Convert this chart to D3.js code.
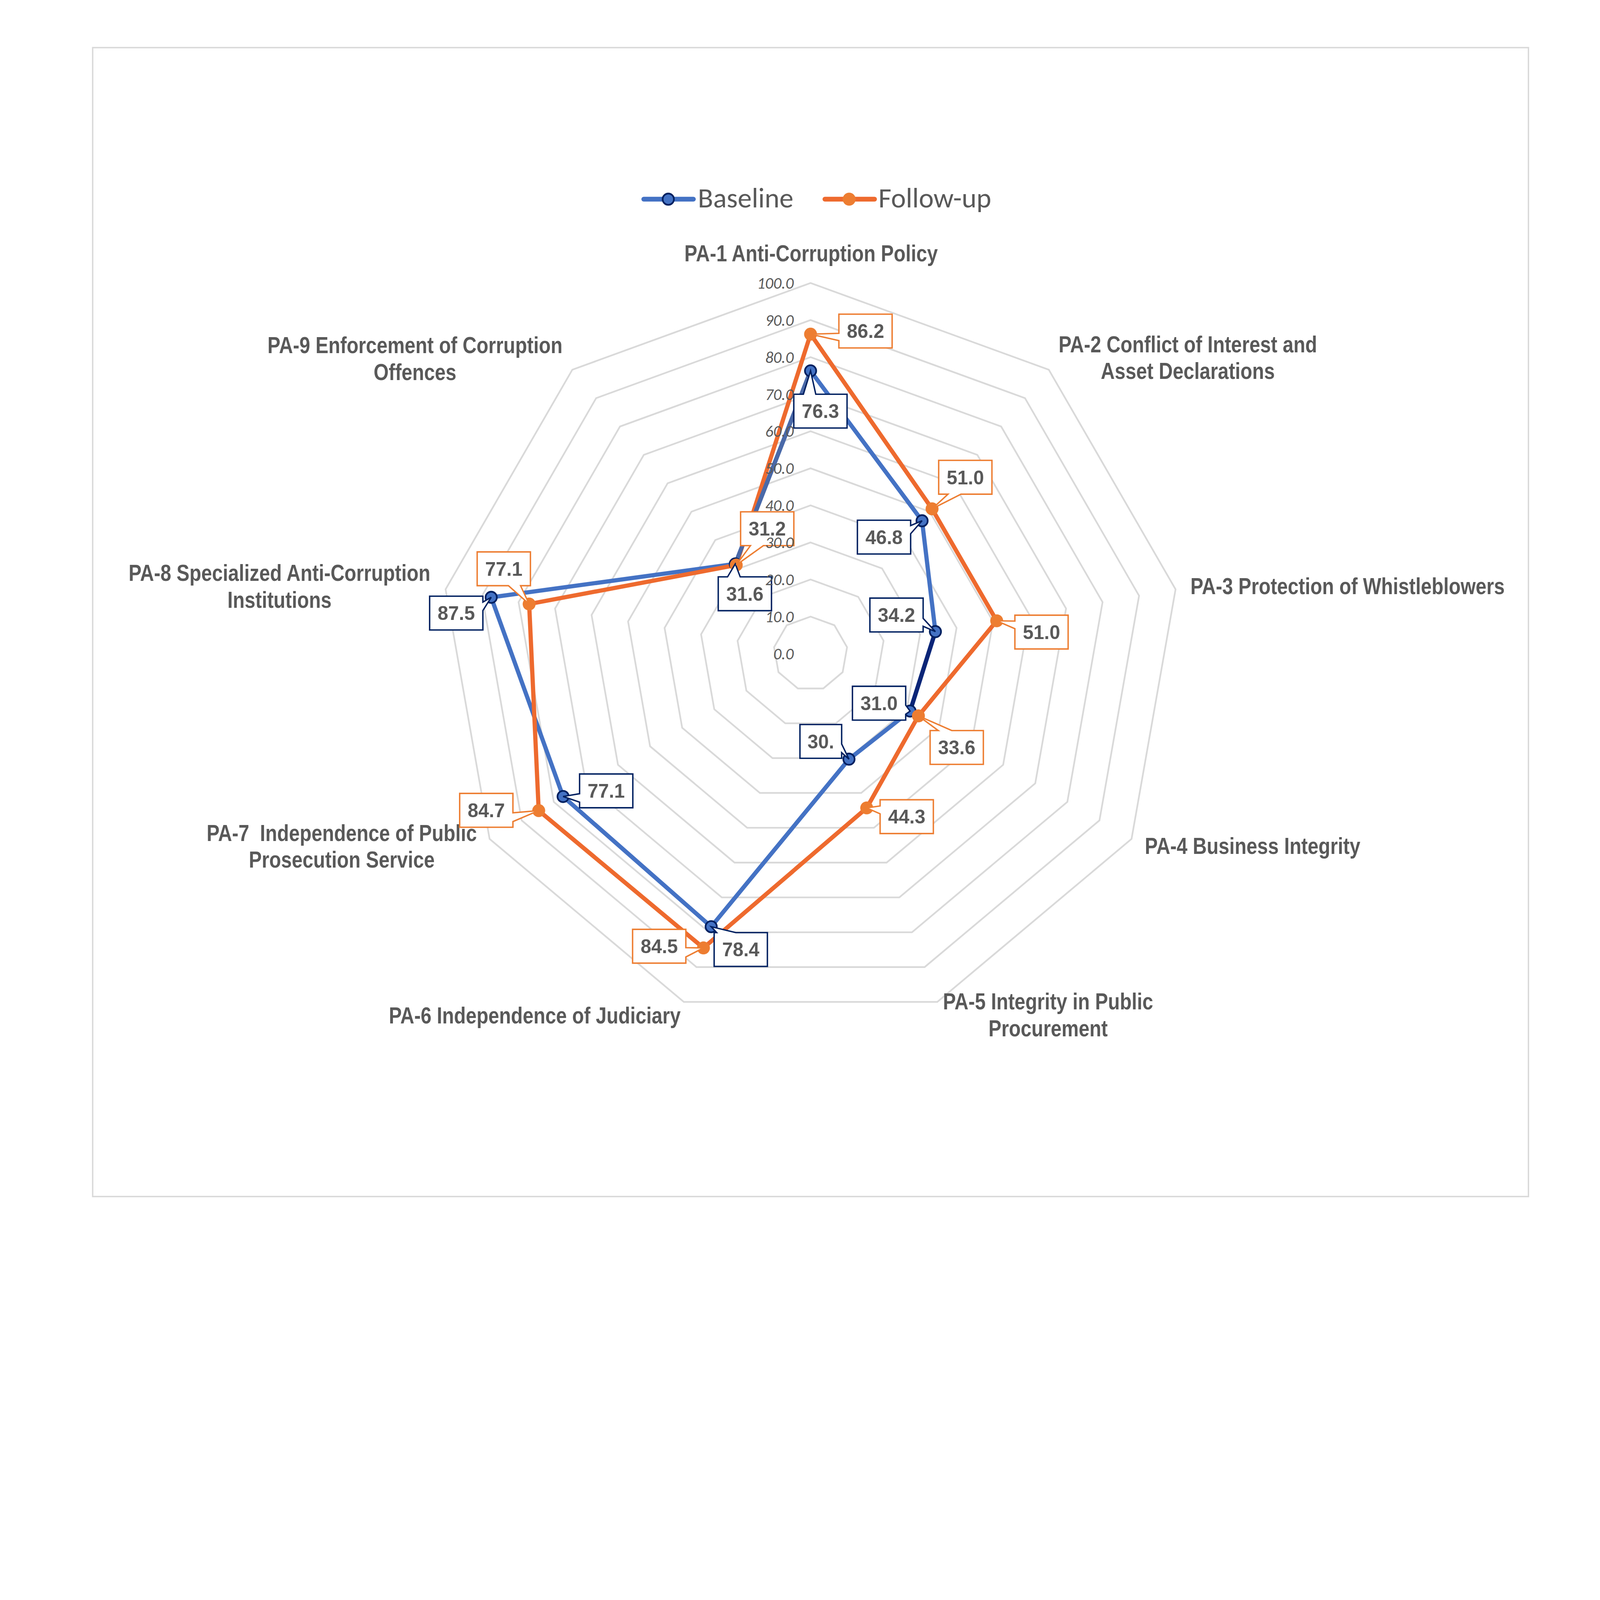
<!DOCTYPE html>
<html>
<head>
<meta charset="utf-8">
<script src="https://cdn.jsdelivr.net/npm/d3@7/dist/d3.min.js"></script>
<style>
  html, body { margin: 0; padding: 0; width: 100%; height: 100%; overflow: hidden; background: #fff; }
  #chart { display: block; width: 100vw; height: 100vh; }
  text { white-space: pre; }
</style>
</head>
<body>
<svg id="chart"></svg>
<script>
// data
const categories = [
  'PA-1 Anti-Corruption Policy',
  'PA-2 Conflict of Interest and\nAsset Declarations',
  'PA-3 Protection of Whistleblowers',
  'PA-4 Business Integrity',
  'PA-5 Integrity in Public\nProcurement',
  'PA-6 Independence of Judiciary',
  'PA-7  Independence of Public\nProsecution Service',
  'PA-8 Specialized Anti-Corruption\nInstitutions',
  'PA-9 Enforcement of Corruption\nOffences'
];
const baseline = [76.3, 46.8, 34.2, 31.0, 30.3, 78.4, 77.1, 87.5, 31.6];
const followUp = [86.2, 51.0, 51.0, 33.6, 44.3, 84.5, 84.7, 77.1, 31.2];
const ticks = [0, 10, 20, 30, 40, 50, 60, 70, 80, 90, 100];
const seriesNames = ['Baseline', 'Follow-up'];

// layout
const W = 5679, H = 4377;
const cx = 2877, cy = 2320, R = 1315.5;
const grey = '#595959';
const boldFont = '"Liberation Sans", Arial, sans-serif';
const calibri = 'Carlito, Calibri, Lato, sans-serif';
const narrowX = 0.837; // no narrow face installed, so squeeze the bold one

// category label anchor (centre x, first baseline y)
const catPos = [
  [2879, 928], [4216, 1250], [4783, 2109], [4446, 3031], [3720, 3583],
  [1898, 3632], [1213, 2985], [992, 2062], [1473, 1254]
];

// data label boxes: offset of box centre from point, wedge side and wedge base offsets
const baseLabels = [
  { dx: 35, dy: 143, side: 'top', a: 34, b: 78 },
  { dx: -135, dy: 58, side: 'right', a: 19, b: 48 },
  { dx: -138, dy: -59, side: 'right', a: 72, b: 100 },
  { dx: -110, dy: -28, side: 'right', a: 67, b: 99 },
  { dx: -100, dy: -63, side: 'right', a: 69, b: 100, w: 148, text: '30.' },
  { dx: 105, dy: 81, side: 'top', a: 9, b: 77 },
  { dx: 153, dy: -20, side: 'left', a: 70, b: 100 },
  { dx: -124, dy: 56, side: 'right', a: 21, b: 51 },
  { dx: 34, dy: 106, side: 'top', a: 33, b: 78 }
];
const followLabels = [
  { dx: 195, dy: -11, side: 'left', a: 68, b: 94 },
  { dx: 118, dy: -112, side: 'bottom', a: 33, b: 79 },
  { dx: 159, dy: 40, side: 'left', a: 21, b: 48 },
  { dx: 136, dy: 112, side: 'top', a: 29, b: 77 },
  { dx: 142, dy: 31, side: 'left', a: 22, b: 50 },
  { dx: -157, dy: -6, side: 'right', a: 65, b: 98 },
  { dx: -186, dy: -1, side: 'right', a: 69, b: 100 },
  { dx: -90, dy: -125, side: 'bottom', a: 111, b: 154 },
  { dx: 110, dy: -129, side: 'bottom', a: 35, b: 81 }
];

const series = [
  { name: seriesNames[0], values: baseline, labels: baseLabels,
    line: '#4472C4', marker: '#4472C4', markerStroke: '#002060', box: '#002060',
    segColors: { 2: '#0B2577', 8: '#4A69A8' } },
  { name: seriesNames[1], values: followUp, labels: followLabels,
    line: '#EE6A2E', marker: '#ED7D31', markerStroke: null, box: '#ED7D31',
    segColors: {} }
];

const svg = d3.select('#chart')
  .attr('viewBox', `0 0 ${W} ${H}`)
  .attr('preserveAspectRatio', 'xMidYMin meet');

svg.append('rect').attr('width', W).attr('height', H).attr('fill', '#fff');

// chart frame
svg.append('rect')
  .attr('x', 329).attr('y', 169)
  .attr('width', 5425 - 329).attr('height', 4247 - 169)
  .attr('fill', 'none')
  .attr('stroke', '#D9D9D9')
  .attr('stroke-width', 5);

const n = categories.length;
const rScale = d3.scaleLinear().domain([0, 100]).range([0, R]);
const aScale = d3.scaleLinear().domain([0, n]).range([0, 2 * Math.PI]);
const pt = (i, v) => [cx + rScale(v) * Math.sin(aScale(i)), cy - rScale(v) * Math.cos(aScale(i))];

const plot = svg.append('g');

// grid rings
const ring = d3.lineRadial()
  .angle((d, i) => aScale(i))
  .radius(d => rScale(d))
  .curve(d3.curveLinearClosed);

plot.append('g')
  .attr('transform', `translate(${cx},${cy})`)
  .selectAll('path')
  .data(ticks.filter(t => t > 0))
  .enter()
  .append('path')
  .attr('d', t => ring(d3.range(n).map(() => t)))
  .attr('fill', 'none')
  .attr('stroke', '#D9D9D9')
  .attr('stroke-width', 6);

// category labels
const cat = plot.append('g')
  .selectAll('text')
  .data(categories)
  .enter()
  .append('text')
  .attr('transform', (d, i) => `translate(${catPos[i][0]},${catPos[i][1]}) scale(${narrowX},1)`)
  .attr('font-family', boldFont)
  .attr('font-weight', 'bold')
  .attr('font-size', 82)
  .attr('fill', grey)
  .attr('text-anchor', 'middle');

cat.each(function (d) {
  d3.select(this).selectAll('tspan')
    .data(d.split('\n'))
    .enter()
    .append('tspan')
    .attr('x', 0)
    .attr('y', (l, j) => j * 95)
    .text(l => l);
});

// series lines
const lines = plot.append('g').attr('transform', `translate(${cx},${cy})`);
series.forEach(s => {
  lines.append('path')
    .attr('d', ring(s.values))
    .attr('fill', 'none')
    .attr('stroke', s.line)
    .attr('stroke-width', 15)
    .attr('stroke-linejoin', 'round');
  Object.keys(s.segColors).forEach(k => {
    const i = +k, j = (i + 1) % n;
    const p1 = pt(i, s.values[i]), p2 = pt(j, s.values[j]);
    plot.append('line')
      .attr('x1', p1[0]).attr('y1', p1[1])
      .attr('x2', p2[0]).attr('y2', p2[1])
      .attr('stroke', s.segColors[k])
      .attr('stroke-width', 15);
  });
});

// markers
series.forEach(s => {
  plot.append('g')
    .selectAll('circle')
    .data(s.values)
    .enter()
    .append('circle')
    .attr('cx', (d, i) => pt(i, d)[0])
    .attr('cy', (d, i) => pt(i, d)[1])
    .attr('r', s.markerStroke ? 20 : 23)
    .attr('fill', s.marker)
    .attr('stroke', s.markerStroke || 'none')
    .attr('stroke-width', 6);
});

// callout path
function callout(x0, y0, w, h, side, a, b, tx, ty) {
  const x1 = x0 + w, y1 = y0 + h;
  const p = d3.path();
  p.moveTo(x0, y0);
  if (side === 'top') { p.lineTo(x0 + a, y0); p.lineTo(tx, ty); p.lineTo(x0 + b, y0); }
  p.lineTo(x1, y0);
  if (side === 'right') { p.lineTo(x1, y0 + a); p.lineTo(tx, ty); p.lineTo(x1, y0 + b); }
  p.lineTo(x1, y1);
  if (side === 'bottom') { p.lineTo(x0 + b, y1); p.lineTo(tx, ty); p.lineTo(x0 + a, y1); }
  p.lineTo(x0, y1);
  if (side === 'left') { p.lineTo(x0, y0 + b); p.lineTo(tx, ty); p.lineTo(x0, y0 + a); }
  p.closePath();
  return p.toString();
}

// data labels
series.forEach(s => {
  const g = plot.append('g')
    .selectAll('g')
    .data(s.values)
    .enter()
    .append('g');
  g.each(function (d, i) {
    const L = s.labels[i];
    const w = L.w || 189, h = 120;
    const [px, py] = pt(i, d);
    const bx = px + L.dx - w / 2, by = py + L.dy - h / 2;
    const el = d3.select(this);
    el.append('path')
      .attr('d', callout(bx, by, w, h, L.side, L.a, L.b, px, py))
      .attr('fill', '#fff')
      .attr('stroke', s.box)
      .attr('stroke-width', 5)
      .attr('stroke-linejoin', 'miter');
    el.append('text')
      .attr('x', bx + w / 2)
      .attr('y', by + h / 2)
      .attr('dy', '0.36em')
      .attr('text-anchor', 'middle')
      .attr('font-family', boldFont)
      .attr('font-weight', 'bold')
      .attr('font-size', 68)
      .attr('fill', grey)
      .text(L.text || d3.format('.1f')(d));
  });
});

// value axis labels, drawn over the series as in the original
plot.append('g')
  .selectAll('text')
  .data(ticks)
  .enter()
  .append('text')
  .attr('x', 2817)
  .attr('y', t => cy - rScale(t))
  .attr('dy', '0.35em')
  .attr('text-anchor', 'end')
  .attr('font-family', calibri)
  .attr('font-style', 'italic')
  .attr('font-size', 57)
  .attr('fill', grey)
  .text(t => d3.format('.1f')(t));

// legend
const legendItems = [
  { x1: 2285, x2: 2461, mx: 2372, tx: 2477 },
  { x1: 2928, x2: 3104, mx: 3014, tx: 3118 }
];
const lg = svg.append('g');
series.forEach((s, k) => {
  const it = legendItems[k];
  lg.append('line')
    .attr('x1', it.x1).attr('x2', it.x2)
    .attr('y1', 707).attr('y2', 707)
    .attr('stroke', s.line)
    .attr('stroke-width', 17)
    .attr('stroke-linecap', 'round');
  lg.append('circle')
    .attr('cx', it.mx).attr('cy', 707)
    .attr('r', s.markerStroke ? 20 : 23)
    .attr('fill', s.marker)
    .attr('stroke', s.markerStroke || 'none')
    .attr('stroke-width', 6);
  lg.append('text')
    .attr('x', it.tx).attr('y', 736)
    .attr('font-family', calibri)
    .attr('font-size', 100)
    .attr('fill', grey)
    .text(s.name);
});
</script>
</body>
</html>
